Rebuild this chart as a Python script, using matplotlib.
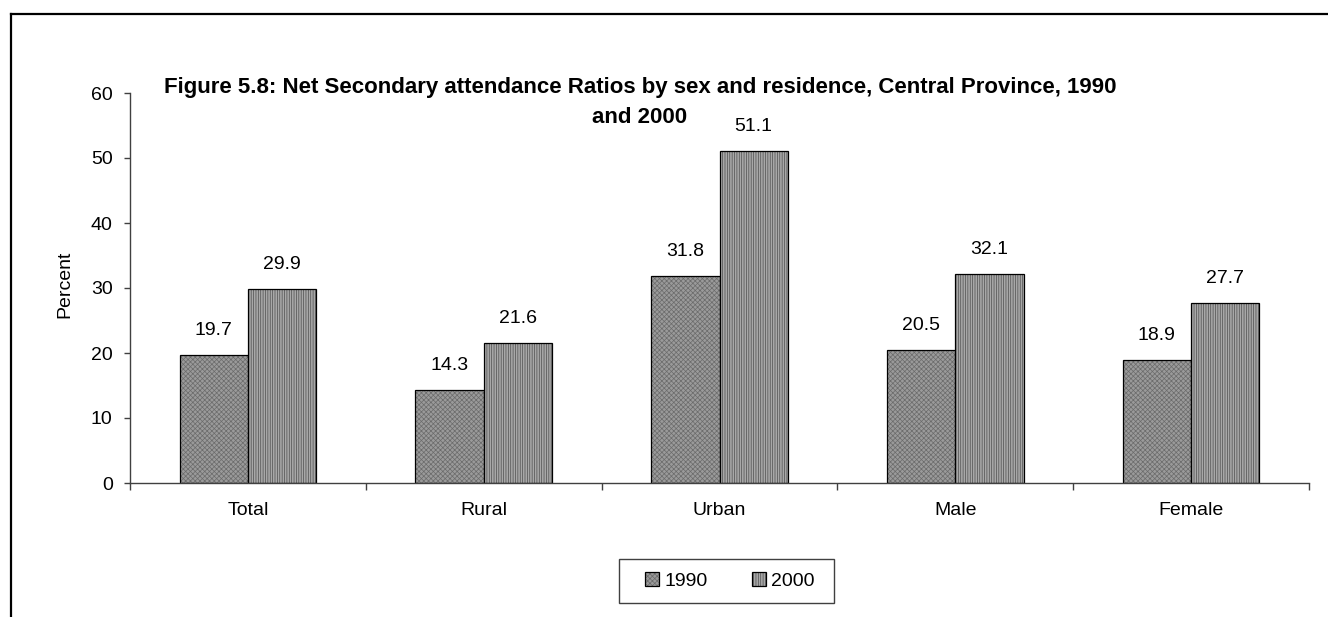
import matplotlib
matplotlib.use("Agg")
import matplotlib.pyplot as plt
from matplotlib.lines import Line2D
from matplotlib.patches import Rectangle
import numpy as np

plt.rcParams['font.family'] = ['Liberation Sans', 'DejaVu Sans']
plt.rcParams['hatch.linewidth'] = 0.5

categories = ["Total", "Rural", "Urban", "Male", "Female"]
years = ["1990", "2000"]
values_1990 = [19.7, 14.3, 31.8, 20.5, 18.9]
values_2000 = [29.9, 21.6, 51.1, 32.1, 27.7]
y_ticks = [0, 10, 20, 30, 40, 50, 60]
title_lines = ["Figure 5.8: Net Secondary attendance Ratios by sex and residence, Central Province, 1990",
               "and 2000"]

W, H = 1328, 617
fig = plt.figure(figsize=(W / 100, H / 100), dpi=100)

# outer chart frame (top and left edges)
fig.add_artist(Line2D([11 / W, 1.0], [1 - 14 / H, 1 - 14 / H], color="black", lw=1.6))
fig.add_artist(Line2D([11 / W, 11 / W], [1 - 14 / H, 0.0], color="black", lw=1.6))

ax = fig.add_axes([130 / W, 1 - 483 / H, (1309 - 130) / W, (483 - 93) / H])

x = np.arange(len(categories))
bw = 0.29
bars1 = ax.bar(x - bw / 2, values_1990, bw, facecolor="#9a9a9a", edgecolor="black",
               linewidth=0.9, hatch="xxxxxxx", label=years[0])
bars2 = ax.bar(x + bw / 2, values_2000, bw, facecolor="#a8a8a8", edgecolor="black",
               linewidth=0.9, hatch="|||||||", label=years[1])
for b in bars1:
    b._hatch_color = (0.42, 0.42, 0.42, 1.0)
for b in bars2:
    b._hatch_color = (0.30, 0.30, 0.30, 1.0)

for bars, vals in ((bars1, values_1990), (bars2, values_2000)):
    for b, v in zip(bars, vals):
        ax.annotate(f"{v:.1f}", (b.get_x() + b.get_width() / 2, v),
                    xytext=(0, 14.4), textcoords="offset points",
                    ha="center", va="baseline", fontsize=14)

ax.set_xlim(-0.5, len(categories) - 0.5)
ax.set_ylim(0, 60)
ax.set_yticks(y_ticks)
ax.set_xticks(np.arange(len(categories) + 1) - 0.5)
ax.set_xticklabels([])
ax.set_xticks(x, minor=True)
ax.set_xticklabels(categories, minor=True, fontsize=14)
ax.tick_params(axis="x", which="minor", length=0, pad=14)
ax.tick_params(axis="x", which="major", length=5, width=1, color="#404040")
ax.tick_params(axis="y", length=4.5, width=1, color="#404040", labelsize=14, pad=8)
for s in ("top", "right"):
    ax.spines[s].set_visible(False)
for s in ("left", "bottom"):
    ax.spines[s].set_color("#404040")
    ax.spines[s].set_linewidth(1)
ax.set_ylabel("Percent", fontsize=14)
ax.yaxis.set_label_coords(65 / W, 1 - 284 / H, transform=fig.transFigure)
ax.yaxis.label.set_va("center")

fig.text(640 / W, 1 - 87 / H, title_lines[0], ha="center", va="center",
         fontsize=16, fontweight="bold")
fig.text(640 / W, 1 - 118 / H, title_lines[1], ha="center", va="center",
         fontsize=16, fontweight="bold")

# legend with a separately drawn frame
fig.add_artist(Rectangle((619 / W, 1 - 603 / H), (834 - 619) / W, (603 - 559) / H,
                         transform=fig.transFigure, facecolor="none",
                         edgecolor="#404040", linewidth=1))
leg = fig.legend(handles=[bars1, bars2], labels=years, loc="center",
                 bbox_to_anchor=(730 / W, 1 - 581 / H), ncol=2, frameon=False,
                 fontsize=14, handlelength=0.72, handleheight=0.72,
                 handletextpad=0.26, columnspacing=2.3, borderpad=0)

fig.savefig("out.png", dpi=100)
